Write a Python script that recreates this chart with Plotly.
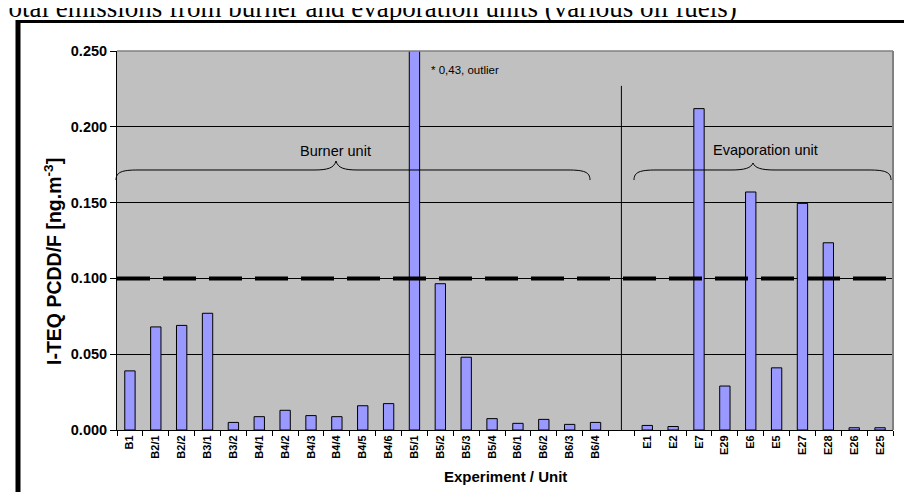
import plotly.graph_objects as go

# ---------------- data ----------------
burner_labels = ["B1", "B2/1", "B2/2", "B3/1", "B3/2", "B4/1", "B4/2", "B4/3", "B4/4",
                 "B4/5", "B4/6", "B5/1", "B5/2", "B5/3", "B5/4", "B6/1", "B6/2", "B6/3", "B6/4"]
burner_values = [0.039, 0.068, 0.069, 0.077, 0.005, 0.0088, 0.013, 0.0095, 0.0088,
                 0.016, 0.0174, 0.43, 0.0965, 0.048, 0.0075, 0.0044, 0.007, 0.0037, 0.005]
gap_label = " "
evap_labels = ["E1", "E2", "E7", "E29", "E6", "E5", "E27", "E28", "E26", "E25"]
evap_values = [0.003, 0.0023, 0.212, 0.029, 0.157, 0.041, 0.1495, 0.1235, 0.0015, 0.0015]
y_ticks = [0.0, 0.05, 0.10, 0.15, 0.20, 0.25]
limit_value = 0.10
y_max = 0.25
separator_top = 0.227

categories = burner_labels + [gap_label] + evap_labels
values = burner_values + [None] + evap_values
gap_index = len(burner_labels)

# ---------------- layout geometry (pixels) ----------------
W, H = 912, 492
L, R, T, B = 109, 885, 43, 422


def px(x):
    return (x - L) / (R - L)


def py(y):
    return (B - y) / (B - T)


def brace(x0, x1, xm, ye, yf, yt):
    pts = [
        ("M", [(x0, ye)]),
        ("C", [(x0, yf + 2), (x0 + 6, yf), (x0 + 22, yf)]),
        ("L", [(xm - 22, yf)]),
        ("C", [(xm - 8, yf), (xm - 2, yf - 2), (xm, yt)]),
        ("C", [(xm + 2, yf - 2), (xm + 8, yf), (xm + 22, yf)]),
        ("L", [(x1 - 22, yf)]),
        ("C", [(x1 - 6, yf), (x1, yf + 2), (x1, ye)]),
    ]
    s = ""
    for cmd, ps in pts:
        s += cmd + " " + " ".join(f"{px(a):.5f},{py(b):.5f}" for a, b in ps) + " "
    return s.strip()


fig = go.Figure()
fig.add_trace(go.Bar(
    x=categories, y=values,
    marker=dict(color="#9999FF", line=dict(color="#000000", width=1)),
    width=0.4, showlegend=False, hoverinfo="x+y",
))

shapes = []
shapes.append(dict(type="line", xref="paper", yref="y", x0=0, x1=1, y0=limit_value, y1=limit_value,
                   line=dict(color="#000000", width=4, dash="33px,13px"), layer="above"))
shapes.append(dict(type="line", xref="x", yref="y", x0=gap_index, x1=gap_index, y0=0, y1=separator_top,
                   line=dict(color="#000000", width=1), layer="above"))
shapes.append(dict(type="path", xref="paper", yref="paper",
                   path=brace(108, 582, 328, 172, 162, 153), line=dict(color="#000000", width=1)))
shapes.append(dict(type="path", xref="paper", yref="paper",
                   path=brace(626, 883, 745, 172, 162, 155), line=dict(color="#000000", width=1)))
shapes.append(dict(type="line", xref="paper", yref="paper", x0=0, x1=1, y0=1, y1=1,
                   line=dict(color="#808080", width=1.5)))
shapes.append(dict(type="line", xref="paper", yref="paper", x0=1, x1=1, y0=0, y1=1,
                   line=dict(color="#808080", width=2)))
shapes.append(dict(type="line", xref="paper", yref="paper", x0=px(8), x1=px(960), y0=py(13.5), y1=py(13.5),
                   line=dict(color="#000000", width=3)))
shapes.append(dict(type="line", xref="paper", yref="paper", x0=px(10), x1=px(10), y0=py(12), y1=py(540),
                   line=dict(color="#000000", width=5)))

annotations = [
    dict(text="Total emissions from burner and evaporation units (various oil fuels)",
         xref="paper", yref="paper", x=px(-16.5), y=py(0), xanchor="left", yanchor="middle",
         showarrow=False, font=dict(family="Liberation Serif, Times New Roman, serif", size=27, color="#000")),
    dict(text="Burner unit", xref="paper", yref="paper", x=px(327.5), y=py(142.5),
         xanchor="center", yanchor="middle", showarrow=False,
         font=dict(family="Arial, Liberation Sans, sans-serif", size=14.5, color="#000")),
    dict(text="Evaporation unit", xref="paper", yref="paper", x=px(757), y=py(142),
         xanchor="center", yanchor="middle", showarrow=False,
         font=dict(family="Arial, Liberation Sans, sans-serif", size=14.5, color="#000")),
    dict(text="* 0,43, outlier", xref="paper", yref="paper", x=px(421), y=py(62),
         xanchor="left", yanchor="middle", showarrow=False,
         font=dict(family="Arial, Liberation Sans, sans-serif", size=11.5, color="#000")),
    dict(text="I-TEQ PCDD/F [ng.m<sup>-3</sup>]", xref="paper", yref="paper", x=px(45), y=py(254),
         xanchor="center", yanchor="middle", textangle=-90, showarrow=False,
         font=dict(family="Arial, Liberation Sans, sans-serif", size=19.5, color="#000", weight="bold")),
    dict(text="Experiment / Unit", xref="paper", yref="paper", x=0.5, y=py(468),
         xanchor="center", yanchor="middle", showarrow=False,
         font=dict(family="Arial, Liberation Sans, sans-serif", size=15, color="#000", weight="bold")),
]

fig.update_layout(
    width=W, height=H,
    margin=dict(l=L, r=W - R, t=T, b=H - B, pad=0),
    paper_bgcolor="#FFFFFF", plot_bgcolor="#C0C0C0",
    bargap=0.6, showlegend=False,
    shapes=shapes, annotations=annotations,
    xaxis=dict(type="category", categoryorder="array", categoryarray=categories,
               range=[-0.5, len(categories) - 0.5], tickangle=-90,
               tickfont=dict(family="Arial, Liberation Sans, sans-serif", size=11, color="#000", weight="bold"),
               showline=True, linecolor="#000000", linewidth=1,
               ticks="outside", ticklen=5, tickcolor="#000000", tickson="boundaries",
               showgrid=False, zeroline=False, fixedrange=True),
    yaxis=dict(range=[0, y_max], tickvals=y_ticks, tickformat=".3f",
               tickfont=dict(family="Arial, Liberation Sans, sans-serif", size=14.5, color="#000", weight="bold"),
               showline=True, linecolor="#000000", linewidth=1,
               ticks="outside", ticklen=6, tickcolor="#000000",
               showgrid=True, gridcolor="#000000", gridwidth=1, zeroline=False, fixedrange=True),
)

fig.write_html("out.html")
